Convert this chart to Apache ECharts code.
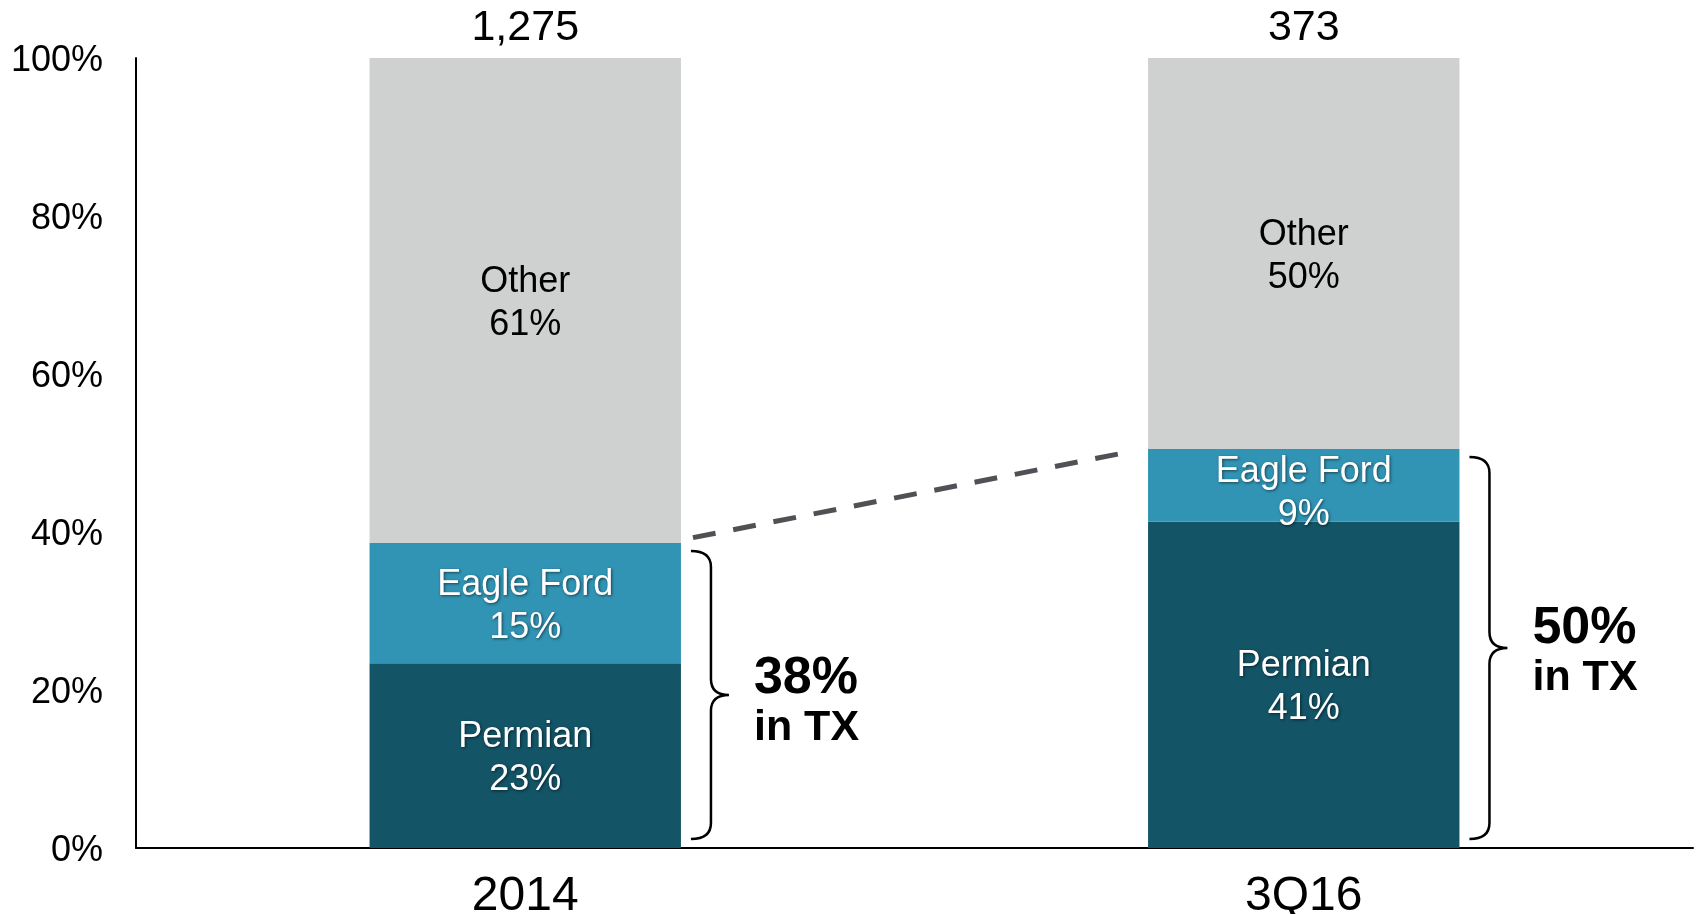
<!DOCTYPE html>
<html>
<head>
<meta charset="utf-8">
<script src="https://cdn.jsdelivr.net/npm/echarts@6/dist/echarts.min.js"></script>
<style>
html,body{margin:0;padding:0;background:#fff;}
#chart{width:1698px;height:914px;}
</style>
</head>
<body>
<div id="chart"></div>
<script>
const categories = ['2014', '3Q16'];
const permian = [23.4, 41.3];
const eagleFord = [15.2, 9.2];
const other = [61.4, 49.5];
const totals = ['1,275', '373'];
const txShare = ['38%', '50%'];

const FONT = "'Liberation Sans', Arial, sans-serif";
const chart = echarts.init(document.getElementById('chart'));

const whiteLabel = (name) => ({
  show: true, position: 'inside', color: '#fff', fontFamily: FONT, fontSize: 36, lineHeight: 43,
  offset: [0, 3],
  textShadowColor: 'rgba(0,0,0,0.55)', textShadowBlur: 3, textShadowOffsetX: 1, textShadowOffsetY: 1,
  formatter: (p) => name + '\n' + Math.round(p.value) + '%'
});

const txData = categories.map((c, i) => [i, permian[i] + eagleFord[i], 100]);
// the short 3Q16 Eagle Ford segment has its label set a little lower, as in the source
const eagleFordData = eagleFord.map((v, i) => i === 1 ? { value: v, label: { offset: [0, 8] } } : v);

chart.setOption({
  animation: false,
  grid: { left: 136, right: 5, top: 58, bottom: 66, containLabel: false, outerBoundsMode: 'none' },
  xAxis: {
    type: 'category', data: categories,
    axisLine: { lineStyle: { color: '#000', width: 2 } },
    axisTick: { show: false },
    axisLabel: { color: '#000', fontFamily: FONT, fontSize: 48, margin: 25 }
  },
  yAxis: {
    type: 'value', min: 0, max: 100, interval: 20,
    axisLine: { show: true, lineStyle: { color: '#000', width: 2 } },
    axisTick: { show: false },
    splitLine: { show: false },
    axisLabel: { color: '#000', fontFamily: FONT, fontSize: 36, margin: 33, formatter: '{value}%',
      verticalAlign: 'top', lineHeight: 7 }
  },
  series: [
    { name: 'Permian', type: 'bar', stack: 'a', barWidth: '40%', data: permian,
      itemStyle: { color: '#135467' }, label: whiteLabel('Permian') },
    { name: 'Eagle Ford', type: 'bar', stack: 'a', data: eagleFordData,
      itemStyle: { color: '#3194B4' }, label: whiteLabel('Eagle Ford') },
    { name: 'Other', type: 'bar', stack: 'a', data: other,
      itemStyle: { color: '#CFD1D0' },
      label: { show: true, position: 'inside', color: '#000', fontFamily: FONT, fontSize: 36, lineHeight: 43,
        offset: [0, 3], formatter: (p) => 'Other\n' + Math.round(p.value) + '%' } },
    { type: 'custom', data: txData, z: 10,
      renderItem: (params, api) => {
        const i = api.value(0);
        const band = api.size([1, 0])[0];
        const half = band * 0.2;
        const top = api.coord([i, api.value(1)]);
        const base = api.coord([i, 0]);
        const full = api.coord([i, api.value(2)]);
        const x0 = top[0] + half + 10, xv = x0 + 20, xt = x0 + 38;
        const y1 = top[1] + 8, y2 = base[1] - 9, ym = (y1 + y2) / 2, r = 16;
        const d = `M${x0},${y1} Q${xv},${y1} ${xv},${y1 + r} L${xv},${ym - r} Q${xv},${ym} ${xt},${ym} ` +
                  `M${xt},${ym} Q${xv},${ym} ${xv},${ym + r} L${xv},${y2 - r} Q${xv},${y2} ${x0},${y2}`;
        const dy = params.dataIndex === 0 ? 3 : 0;
        return { type: 'group', children: [
          { type: 'path', shape: { pathData: d }, style: { stroke: '#000', fill: null, lineWidth: 2.5 } },
          { type: 'text', style: { text: txShare[params.dataIndex], x: xt + 25, y: ym - 19 + dy,
              fontFamily: FONT, fontSize: 52, fontWeight: 'bold', fill: '#000', verticalAlign: 'middle', align: 'left' } },
          { type: 'text', style: { text: 'in TX', x: xt + 25, y: ym + 30 + dy,
              fontFamily: FONT, fontSize: 43, fontWeight: 'bold', fill: '#000', verticalAlign: 'middle', align: 'left' } },
          { type: 'text', style: { text: totals[params.dataIndex], x: full[0], y: full[1] - 30,
              fontFamily: FONT, fontSize: 43, fill: '#000', verticalAlign: 'middle', align: 'center' } }
        ] };
      } },
    { type: 'custom', data: [[0, permian[0] + eagleFord[0], 1, permian[1] + eagleFord[1]]], z: 10,
      renderItem: (params, api) => {
        const band = api.size([1, 0])[0];
        const half = band * 0.2;
        const a = api.coord([api.value(0), api.value(1)]);
        const b = api.coord([api.value(2), api.value(3)]);
        const ax = a[0] + half, ay = a[1], bx = b[0] - half, by = b[1];
        const slope = (by - ay) / (bx - ax);
        const sx = ax + 12, ex = bx - 20;
        return { type: 'line',
          shape: { x1: sx, y1: ay + slope * (sx - ax) - 3, x2: ex, y2: ay + slope * (ex - ax) - 1 },
          style: { stroke: '#505055', lineWidth: 5, lineDash: [23, 18] } };
      } }
  ]
});
</script>
</body>
</html>
